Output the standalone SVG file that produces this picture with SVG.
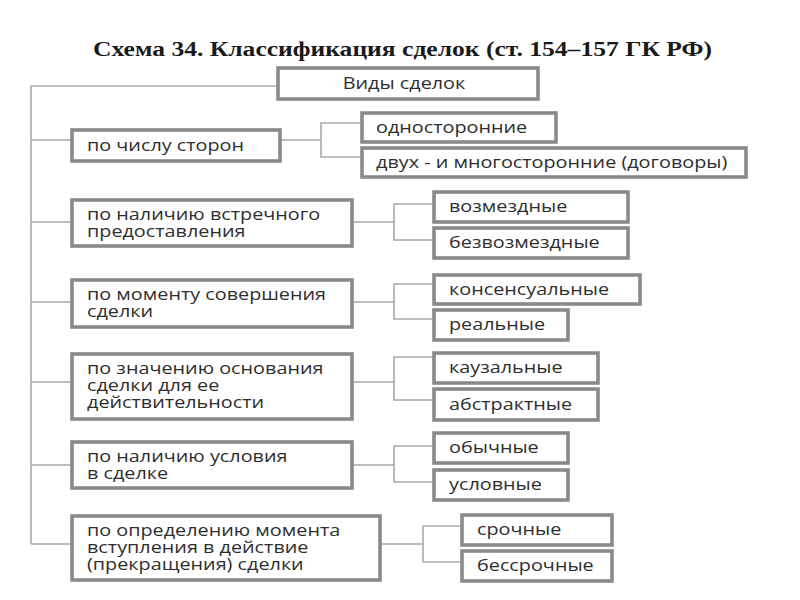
<svg xmlns="http://www.w3.org/2000/svg" width="800" height="600" viewBox="0 0 800 600">
<style>
.bg{fill:#fff}
.box{fill:#fff;stroke:#8a8a8a;stroke-width:3.6}
.t{font-family:"Open Sans","Noto Sans","DejaVu Sans",sans-serif;font-size:16.5px;fill:#2e2e2e}
.title{font-family:"Liberation Serif","DejaVu Serif",serif;font-weight:bold;font-size:20px;fill:#1a1a1a}
.ln{fill:none;stroke:#a8a8a8;stroke-width:1.6}
</style>
<rect class="bg" x="0" y="0" width="800" height="600"/>
<text class="title" x="93" y="56" textLength="619" lengthAdjust="spacingAndGlyphs">Схема 34. Классификация сделок (ст. 154–157 ГК РФ)</text>
<g id="connectors">
<path class="ln" d="M31,86 H278 M31,86 V544 M31,140 H72 M31,222 H72 M31,302 H72 M31,382 H72 M31,465 H72 M31,544 H72"/>
<path class="ln" d="M280,140 H321 M362,123 H321 V157 H362"/>
<path class="ln" d="M352,222 H394 M434,204 H394 V240 H434"/>
<path class="ln" d="M352,302 H394 M434,284 H394 V319 H434"/>
<path class="ln" d="M352,382 H394 M434,357 H394 V400 H434"/>
<path class="ln" d="M352,465 H394 M434,446 H394 V482 H434"/>
<path class="ln" d="M380,544 H423 M462,526 H423 V562 H462"/>
</g>
<g id="root"><rect class="box" x="278" y="68" width="260" height="31"/><text class="t" transform="translate(404,89) scale(1.2,1)" text-anchor="middle">Виды сделок</text></g>
<g id="c1"><rect class="box" x="72" y="130" width="208" height="31"/><text class="t" transform="translate(87,151) scale(1.2,1)">по числу сторон</text></g>
<g id="c1a"><rect class="box" x="362" y="113" width="194" height="29"/><text class="t" transform="translate(376,133) scale(1.2,1)">односторонние</text></g>
<g id="c1b"><rect class="box" x="362" y="148" width="384" height="29"/><text class="t" transform="translate(376,168) scale(1.2,1)">двух - и многосторонние (договоры)</text></g>
<g id="c2"><rect class="box" x="72" y="200" width="280" height="46"/><text class="t" transform="translate(87,220) scale(1.2,1)">по наличию встречного</text><text class="t" transform="translate(87,237) scale(1.2,1)">предоставления</text></g>
<g id="c2a"><rect class="box" x="434" y="192" width="194" height="30"/><text class="t" transform="translate(449,212) scale(1.2,1)">возмездные</text></g>
<g id="c2b"><rect class="box" x="434" y="228" width="194" height="30"/><text class="t" transform="translate(449,248) scale(1.2,1)">безвозмездные</text></g>
<g id="c3"><rect class="box" x="72" y="280" width="280" height="47"/><text class="t" transform="translate(87,300) scale(1.2,1)">по моменту совершения</text><text class="t" transform="translate(87,317) scale(1.2,1)">сделки</text></g>
<g id="c3a"><rect class="box" x="434" y="275" width="206" height="29"/><text class="t" transform="translate(449,295) scale(1.2,1)">консенсуальные</text></g>
<g id="c3b"><rect class="box" x="434" y="310" width="134" height="30"/><text class="t" transform="translate(449,330) scale(1.2,1)">реальные</text></g>
<g id="c4"><rect class="box" x="72" y="354" width="280" height="65"/><text class="t" transform="translate(87,374) scale(1.2,1)">по значению основания</text><text class="t" transform="translate(87,391) scale(1.2,1)">сделки для ее</text><text class="t" transform="translate(87,408) scale(1.2,1)">действительности</text></g>
<g id="c4a"><rect class="box" x="434" y="353" width="164" height="30"/><text class="t" transform="translate(449,373) scale(1.2,1)">каузальные</text></g>
<g id="c4b"><rect class="box" x="434" y="389" width="164" height="31"/><text class="t" transform="translate(449,410) scale(1.2,1)">абстрактные</text></g>
<g id="c5"><rect class="box" x="72" y="442" width="280" height="46"/><text class="t" transform="translate(87,462) scale(1.2,1)">по наличию условия</text><text class="t" transform="translate(87,479) scale(1.2,1)">в сделке</text></g>
<g id="c5a"><rect class="box" x="434" y="433" width="134" height="30"/><text class="t" transform="translate(449,453) scale(1.2,1)">обычные</text></g>
<g id="c5b"><rect class="box" x="434" y="470" width="134" height="30"/><text class="t" transform="translate(449,490) scale(1.2,1)">условные</text></g>
<g id="c6"><rect class="box" x="72" y="516" width="308" height="64"/><text class="t" transform="translate(87,536) scale(1.2,1)">по определению момента</text><text class="t" transform="translate(87,553) scale(1.2,1)">вступления в действие</text><text class="t" transform="translate(87,570) scale(1.2,1)">(прекращения) сделки</text></g>
<g id="c6a"><rect class="box" x="462" y="515" width="150" height="30"/><text class="t" transform="translate(477,535) scale(1.2,1)">срочные</text></g>
<g id="c6b"><rect class="box" x="462" y="551" width="150" height="30"/><text class="t" transform="translate(477,571) scale(1.2,1)">бессрочные</text></g>
</svg>
